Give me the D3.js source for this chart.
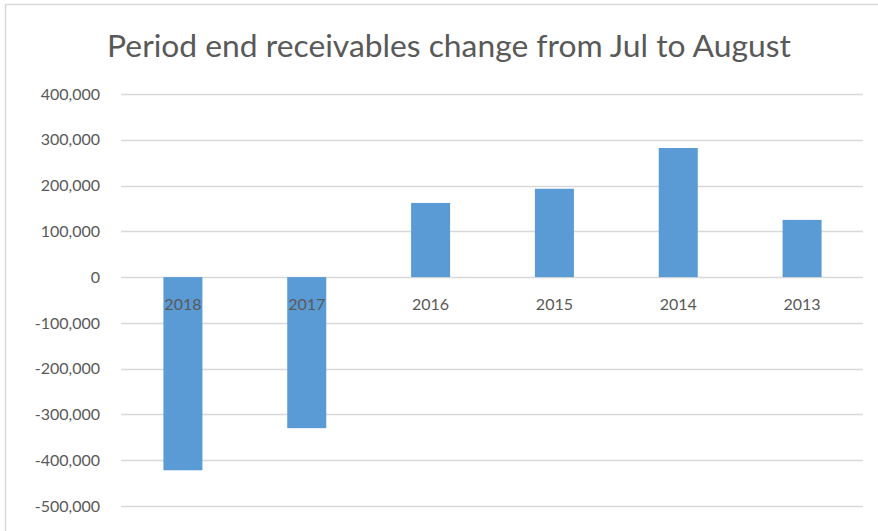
<!DOCTYPE html>
<html>
<head>
<meta charset="utf-8">
<script src="https://cdn.jsdelivr.net/npm/d3@7"></script>
<style>
  html, body { margin: 0; padding: 0; background: #fff; }
  svg { display: block; }
</style>
</head>
<body>
<svg id="chart" width="878" height="531"></svg>
<script>
// Change in period-end receivables, July to August, by year
const years = ["2018", "2017", "2016", "2015", "2014", "2013"];
const changes = [-422000, -330000, 162000, 193000, 282000, 125000];
const yTicks = [400000, 300000, 200000, 100000, 0, -100000, -200000, -300000, -400000, -500000];
const title = "Period end receivables change from Jul to August";

const W = 878, H = 531;

const svg = d3.select("#chart");

// number format with a plain hyphen for negatives
const fmt = d3.formatLocale({ decimal: ".", thousands: ",", grouping: [3], currency: ["", ""], minus: "-" }).format(",");

// chart frame
svg.append("path")
  .attr("d", `M5.5,${H} L5.5,4.5 L${W},4.5`)
  .attr("fill", "none")
  .attr("stroke", "#d9d9d9")
  .attr("stroke-width", 1.5);

const x = d3.scaleBand()
  .domain(years)
  .range([121, 864])
  .paddingInner(0.685)
  .paddingOuter(0.3425);

const y = d3.scaleLinear()
  .domain([-500000, 400000])
  .range([506, 94]);

// horizontal gridlines
svg.append("g")
  .selectAll("line")
  .data(yTicks)
  .join("line")
  .attr("x1", 121).attr("x2", 863)
  .attr("y1", d => Math.round(y(d)) + 0.5)
  .attr("y2", d => Math.round(y(d)) + 0.5)
  .attr("stroke", "#d9d9d9")
  .attr("stroke-width", 1.3);

// bars
svg.append("g")
  .selectAll("rect")
  .data(years.map((yr, i) => ({ yr, v: changes[i] })))
  .join("rect")
  .attr("x", d => x(d.yr))
  .attr("width", x.bandwidth())
  .attr("y", d => y(Math.max(0, d.v)))
  .attr("height", d => Math.abs(y(d.v) - y(0)))
  .attr("fill", "#5b9bd5");

// value axis
const yAxis = d3.axisLeft(y)
  .tickValues(yTicks)
  .tickFormat(fmt)
  .tickSize(0)
  .tickPadding(0);

svg.append("g")
  .attr("transform", "translate(100,0)")
  .call(yAxis)
  .call(g => g.select(".domain").remove())
  .call(g => g.selectAll("text")
    .attr("fill", "#595959")
    .attr("font-family", "Lato, 'Open Sans', sans-serif")
    .attr("font-size", 16));

// category labels sit just under the zero line
const xAxis = d3.axisBottom(x).tickSize(0).tickPadding(0);
svg.append("g")
  .attr("transform", `translate(0,${y(0) + 22})`)
  .call(xAxis)
  .call(g => g.select(".domain").remove())
  .call(g => g.selectAll("text")
    .attr("fill", "#595959")
    .attr("font-family", "Lato, 'Open Sans', sans-serif")
    .attr("font-size", 16));

// title
svg.append("text")
  .attr("x", 449)
  .attr("y", 57)
  .attr("text-anchor", "middle")
  .attr("fill", "#595959")
  .attr("font-family", "Lato, 'Open Sans', sans-serif")
  .attr("font-size", 31.8)
  .text(title);
</script>
</body>
</html>
